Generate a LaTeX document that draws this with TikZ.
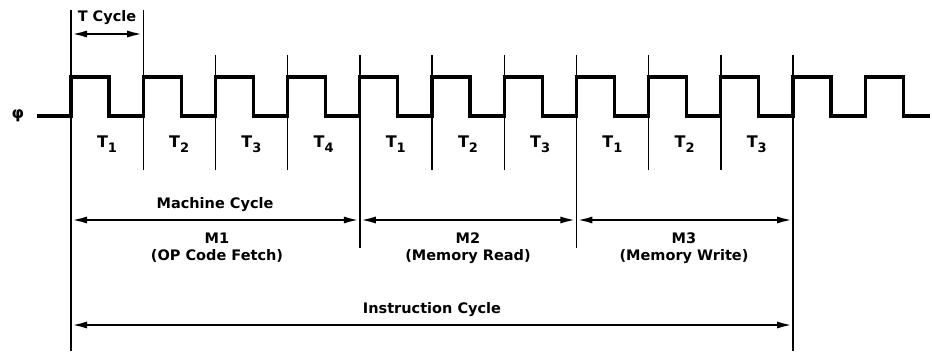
\documentclass[tikz,border=0pt]{standalone}
\usepackage{fontspec}
\setmainfont{DejaVu Sans}
\usetikzlibrary{arrows.meta}

\begin{document}
\begin{tikzpicture}[
	x=1pt, y=-1pt,
	sig/.style={line width=3.2pt, line join=miter},
	rule/.style={line width=1.4pt},
	dim/.style={{Latex[length=16pt,width=7pt]}-{Latex[length=16pt,width=7pt]}, line width=2.4pt},
	lbl/.style={font=\bfseries\fontsize{14.5}{17}\selectfont, align=center, inner sep=1pt},
	tlbl/.style={font=\bfseries\fontsize{16}{19}\selectfont, inner sep=1pt}
]
\useasboundingbox (0,0) rectangle (932,351);

% rising edges of the clock
\foreach \i in {0,...,11}
	\coordinate (e\i) at ({71+72.2*\i},116);
\coordinate (tc) at (0,34);
\coordinate (mc) at (0,220);
\coordinate (ic) at (0,325);

% clock
\node[font=\bfseries\fontsize{16}{19}\selectfont, inner sep=0pt] (phi) at (18,116) {φ};
\draw[sig] (37,116) foreach \i in {0,...,11} {
	-- ({71+72.2*\i},116) -- ({71+72.2*\i},77) -- ({109+72.2*\i},77) -- ({109+72.2*\i},116)
	} -- (930,116);

% division lines
\foreach \i in {2,3,5,6,8,9}
	\draw[rule] (e\i|-0,55) -- (e\i|-0,170);
\draw[rule] (e0|-0,10) -- (e0|-0,351);
\draw[rule] (e1|-0,10) -- (e1|-0,170);
\draw[rule] (e4|-0,55) -- (e4|-0,248);
\draw[rule] (e7|-0,55) -- (e7|-0,248);
\draw[rule] (e10|-0,55) -- (e10|-0,351);

% T states
\foreach \n/\t [count=\k from 0] in {1/1,2/2,3/3,4/4,5/1,6/2,7/3,8/1,9/2,10/3}
	\node[tlbl] (t\n) at ({107+72.2*\k},144) {T\raisebox{-5pt}{\fontsize{13}{16}\selectfont\t}};

% cycles
\node[lbl] (tcyc) at (107,18) {T Cycle};
\draw[dim] (e0|-tc) -- (e1|-tc);

\node[lbl] (mcyc) at (215,205) {Machine Cycle};
\draw[dim] (e0|-mc) -- (e4|-mc);
\draw[dim] (e4|-mc) -- (e7|-mc);
\draw[dim] (e7|-mc) -- (e10|-mc);
\node[lbl] (m1) at (217,248) {M1\\(OP Code Fetch)};
\node[lbl] (m2) at (468,248) {M2\\(Memory Read)};
\node[lbl] (m3) at (684,248) {M3\\(Memory Write)};

\node[lbl] (icyc) at (432,310) {Instruction Cycle};
\draw[dim] (e0|-ic) -- (e10|-ic);

\end{tikzpicture}
\end{document}
